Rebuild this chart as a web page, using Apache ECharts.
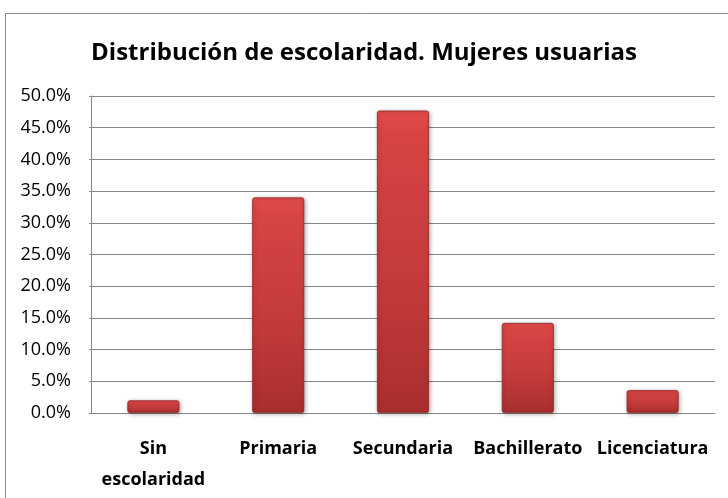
<!DOCTYPE html>
<html>
<head>
<meta charset="UTF-8">
<script src="https://cdn.jsdelivr.net/npm/echarts@6/dist/echarts.min.js"></script>
<style>
  html, body { margin: 0; padding: 0; background: #fff; }
  #main { width: 728px; height: 498px; }
</style>
</head>
<body>
<div id="main"></div>
<script>
    var titleText = 'Distribución de escolaridad. Mujeres usuarias';
    var categories = ['Sin\nescolaridad', 'Primaria', 'Secundaria', 'Bachillerato', 'Licenciatura'];
    var values = [0.020, 0.340, 0.477, 0.142, 0.036];
    var yTicks = [0, 0.05, 0.10, 0.15, 0.20, 0.25, 0.30, 0.35, 0.40, 0.45, 0.50];

    var font = '"Open Sans", "Noto Sans", sans-serif';
    var mychart = echarts.init(document.getElementById('main'));

    // bevelled red bars: lighter on top, darker towards the base
    var barColor = new echarts.graphic.LinearGradient(0, 0, 0, 1, [
        { offset: 0, color: '#e24b4b' },
        { offset: 0.08, color: '#d84444' },
        { offset: 0.6, color: '#c33a3a' },
        { offset: 1, color: '#a82e2e' }
    ]);

    var option = {
        animation: false,
        backgroundColor: '#fff',
        title: {
            text: titleText,
            left: 'center',
            top: 36,
            textStyle: {
                fontFamily: font,
                fontWeight: 'bold',
                fontSize: 24,
                color: '#000'
            }
        },
        graphic: [{
            type: 'rect',
            shape: { x: 5.5, y: 13.5, width: 740, height: 500 },
            style: { fill: 'none', stroke: '#8c8c8c', lineWidth: 1 },
            z: 0
        }],
        grid: {
            left: 91,
            right: 13,
            top: 96,
            bottom: 85
        },
        xAxis: {
            type: 'category',
            data: categories,
            axisLine: { lineStyle: { color: '#868686' } },
            axisTick: { show: false },
            axisLabel: {
                fontFamily: font,
                fontWeight: 'bold',
                fontSize: 18,
                color: '#000',
                margin: 20,
                lineHeight: 31,
                interval: 0
            }
        },
        yAxis: {
            type: 'value',
            min: yTicks[0],
            max: yTicks[yTicks.length - 1],
            interval: 0.05,
            axisLine: { show: true, lineStyle: { color: '#868686' } },
            axisTick: { show: true, length: 2, lineStyle: { color: '#868686' } },
            splitLine: { lineStyle: { color: '#868686', width: 1 } },
            axisLabel: {
                fontFamily: font,
                fontSize: 18,
                color: '#000',
                margin: 20,
                formatter: function (v) { return (v * 100).toFixed(1) + '%'; }
            }
        },
        series: [{
            type: 'bar',
            data: values,
            barWidth: 52,
            itemStyle: {
                color: barColor,
                borderColor: '#8e2424',
                borderWidth: 0.8,
                borderRadius: 2,
                shadowColor: 'rgba(0,0,0,0.35)',
                shadowBlur: 4,
                shadowOffsetX: 1,
                shadowOffsetY: 1
            }
        }]
    };
    mychart.setOption(option);
</script>
</body>
</html>
